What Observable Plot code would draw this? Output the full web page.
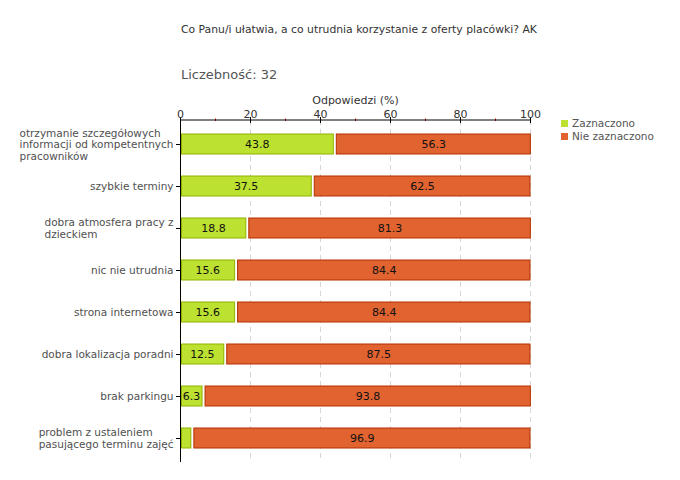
<!DOCTYPE html>
<html><head><meta charset="utf-8">
<script src="https://cdn.jsdelivr.net/npm/d3@7"></script>
<script src="https://cdn.jsdelivr.net/npm/@observablehq/plot@0.6"></script>
<style>
body{margin:0;background:#fff;font-family:"DejaVu Sans",sans-serif;}
#wrap{position:relative;width:680px;height:480px;overflow:hidden;}
.t{position:absolute;white-space:nowrap;color:#333;line-height:1;}
#chart{position:absolute;left:0;top:0;}
.lg{position:absolute;left:561px;font-size:10.5px;color:#555;white-space:nowrap;line-height:1;}
.lg span{display:inline-block;width:7px;height:7px;margin-right:4px;vertical-align:0px;}
</style></head><body>
<div id="wrap">
<div id="chart"></div>
<div class="t" style="left:181px;top:25px;font-size:10.8px;">Co Panu/i ułatwia, a co utrudnia korzystanie z oferty placówki? AK</div>
<div class="t" style="left:181px;top:68px;font-size:13px;color:#555;">Liczebność: 32</div>
<div id="legend"></div>
</div>
<script>
const categories = [
  "otrzymanie szczegółowych\ninformacji od kompetentnych\npracowników",
  "szybkie terminy",
  "dobra atmosfera pracy z\ndzieckiem",
  "nic nie utrudnia",
  "strona internetowa",
  "dobra lokalizacja poradni",
  "brak parkingu",
  "problem z ustaleniem\npasującego terminu zajęć"
];
const zaznaczono = [43.8, 37.5, 18.8, 15.6, 15.6, 12.5, 6.3, 3.1];
const nieZaznaczono = [56.3, 62.5, 81.3, 84.4, 84.4, 87.5, 93.8, 96.9];
const seriesNames = ["Zaznaczono", "Nie zaznaczono"];
const fills = ["#bde130", "#e06330"];
const strokes = ["#8fb200", "#b33000"];
const xTicks = [0, 20, 40, 60, 80, 100];
const minorTicks = [10, 30, 50, 70, 90];
const axisTitle = "Odpowiedzi (%)";

const green = categories.map((c, i) => ({cat: c, x1: 0, x2: zaznaczono[i], v: zaznaczono[i]}));
const orange = categories.map((c, i) => ({cat: c, x1: zaznaczono[i], x2: zaznaczono[i] + nieZaznaczono[i], v: nieZaznaczono[i]}));

const ctx = document.createElement("canvas").getContext("2d");
ctx.font = "10.5px 'DejaVu Sans'";
const labelMarks = categories.map(c => {
  const w = Math.max(...c.split("\n").map(l => ctx.measureText(l).width));
  return Plot.text([c], {y: d => d, text: d => d, frameAnchor: "left", textAnchor: "start",
    dx: -(w + 7), fill: "#505050", fontSize: 10.5, lineHeight: 1.12});
});

const plot = Plot.plot({
  width: 680, height: 480,
  marginTop: 120, marginLeft: 180, marginRight: 150, marginBottom: 18,
  style: {fontFamily: "'DejaVu Sans', sans-serif", fontSize: "11px", background: "transparent", color: "#333"},
  x: {domain: [0, 100], axis: null},
  y: {domain: categories, axis: null, label: null, paddingInner: 0.53, paddingOuter: 0.265},
  marks: [
    Plot.gridX(xTicks.slice(1), {stroke: "#d6d6d6", strokeOpacity: 1, strokeDasharray: "5,4"}),
    Plot.barX(green, {x1: "x1", x2: "x2", y: "cat", fill: fills[0], stroke: strokes[0], insetLeft: 1.5}),
    Plot.barX(orange, {x1: "x1", x2: "x2", y: "cat", fill: fills[1], stroke: strokes[1], insetLeft: 3}),
    Plot.text(green.filter(d => d.v >= 5), {x: d => (d.x1 + d.x2) / 2, y: "cat", text: d => d.v.toFixed(1), fill: "#111", fontSize: 11}),
    Plot.text(orange.filter(d => d.v >= 5), {x: d => (d.x1 + d.x2) / 2 + 0.4, y: "cat", text: d => d.v.toFixed(1), fill: "#111", fontSize: 11}),
    Plot.ruleX([0], {stroke: "#000"}),
    Plot.axisY({tickSize: 4, tickFormat: () => "", stroke: "#000", label: null}),
    Plot.ruleX(xTicks, {stroke: "#000", insetTop: -3, insetBottom: 339}),
    Plot.ruleX(minorTicks, {stroke: "#e00000", insetTop: -1.5, insetBottom: 341}),
    (index, scales, values, dims) => {
      const x0 = scales && scales.x ? scales.x(0) : dims.marginLeft;
      const x1 = scales && scales.x ? scales.x(100) : dims.width - dims.marginRight;
      const y = dims ? dims.marginTop : 120;
      return d3.create("svg:line").attr("x1", x0).attr("x2", x1).attr("y1", y).attr("y2", y)
        .attr("stroke", "#000").node();
    },
    Plot.axisX({anchor: "top", ticks: xTicks, tickSize: 0, tickPadding: 3, fill: "#333", label: null}),
    Plot.text([axisTitle], {frameAnchor: "top", text: d => d, dy: -17, lineAnchor: "bottom", fill: "#333", fontSize: 11}),
    ...labelMarks
  ]
});
document.getElementById("chart").appendChild(plot);

const lg = document.getElementById("legend");
seriesNames.forEach((n, i) => {
  const d = document.createElement("div");
  d.className = "lg";
  d.style.top = (118 + i * 13) + "px";
  d.innerHTML = `<span style="background:${fills[i]}"></span>${n}`;
  lg.appendChild(d);
});
</script>
</body></html>
